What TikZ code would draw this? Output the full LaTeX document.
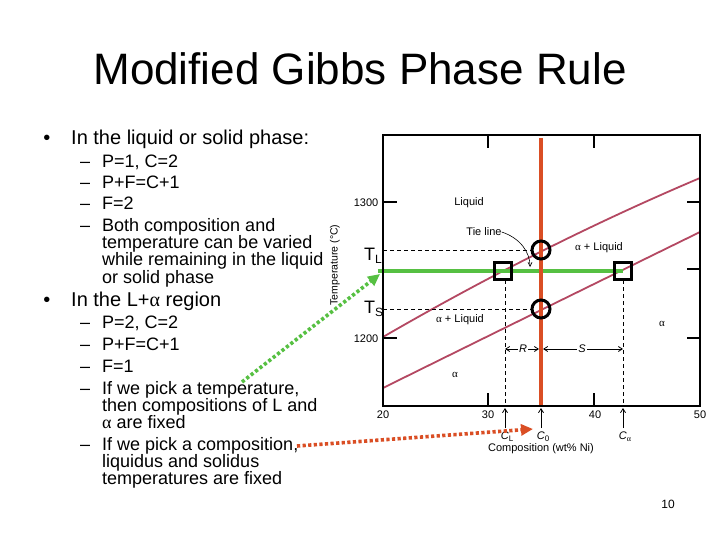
\documentclass[tikz,border=0pt]{standalone}
\usepackage{fontspec}
\setmainfont{Liberation Sans}
\newfontfamily\greekfont{Liberation Serif}
\usetikzlibrary{arrows.meta}
\definecolor{curvecol}{RGB}{180,72,98}
\definecolor{orangecol}{RGB}{218,78,36}
\definecolor{greencol}{RGB}{86,192,66}
\tikzset{
  titlefont/.style={anchor=base, inner sep=0pt, font=\fontsize{44}{48}\selectfont},
  bul/.style={anchor=base, inner sep=0pt, font=\fontsize{20}{22}\selectfont},
  lvlone/.style={anchor=base west, inner sep=0pt, font=\fontsize{20}{22}\selectfont},
  lvltwo/.style={anchor=base west, inner sep=0pt, font=\fontsize{18}{20}\selectfont},
  dashmark/.style={anchor=base west, inner sep=0pt, font=\fontsize{18}{20}\selectfont},
  small/.style={inner sep=0pt, font=\fontsize{11}{12}\selectfont},
  tlab/.style={anchor=base west, inner sep=0pt, font=\fontsize{18}{20}\selectfont},
  curve/.style={draw=curvecol, line width=1.8pt},
  guide/.style={draw=black, line width=0.8pt, dash pattern=on 4pt off 3pt},
  frame/.style={draw=black, line width=1.2pt},
  marker/.style={draw=black, line width=3pt},
  gdot/.style={draw=greencol, line width=3.6pt, dash pattern=on 3.2pt off 2.4pt, -{Triangle[length=12pt,width=11pt]}},
  odot/.style={draw=orangecol, line width=3.6pt, dash pattern=on 3.2pt off 2.4pt, -{Triangle[length=12pt,width=11pt]}},
  uparrow/.style={draw=black, line width=0.8pt, -{Straight Barb[length=4pt,width=5pt]}},
  dimarrow/.style={draw=black, line width=0.8pt, {Straight Barb[length=4pt,width=5pt]}-{Straight Barb[length=4pt,width=5pt]}}
}
\begin{document}
\begin{tikzpicture}[x=1pt,y=-1pt]
\useasboundingbox (0,0) rectangle (720,540);
\fill[white] (0,0) rectangle (720,540);

% title
\node[titlefont] (title) at (360,85) {Modified Gibbs Phase Rule};

% bullets and text
\node[bul] (bu1) at (47,145) {•};
\node[lvlone] (l1) at (71,145) {In the liquid or solid phase:};
\node[dashmark] (d1) at (80,168) {–};
\node[lvltwo] (t1) at (102,168) {P=1, C=2};
\node[dashmark] (d2) at (80,189) {–};
\node[lvltwo] (t2) at (102,189) {P+F=C+1};
\node[dashmark] (d3) at (80,210) {–};
\node[lvltwo] (t3) at (102,210) {F=2};
\node[dashmark] (d4) at (80,231) {–};
\node[lvltwo] (t4a) at (102,231) {Both composition and};
\node[lvltwo] (t4b) at (102,248) {temperature can be varied};
\node[lvltwo] (t4c) at (102,265.5) {while remaining in the liquid};
\node[lvltwo] (t4d) at (102,283) {or solid phase};

\node[bul] (bu2) at (47,306.5) {•};
\node[lvlone] (l2) at (71,306.5) {In the L+{\greekfont α} region};
\node[dashmark] (d5) at (80,328) {–};
\node[lvltwo] (t5) at (102,328) {P=2, C=2};
\node[dashmark] (d6) at (80,350) {–};
\node[lvltwo] (t6) at (102,350) {P+F=C+1};
\node[dashmark] (d7) at (80,372) {–};
\node[lvltwo] (t7) at (102,372) {F=1};
\node[dashmark] (d8) at (80,394) {–};
\node[lvltwo] (t8a) at (102,394) {If we pick a temperature,};
\node[lvltwo] (t8b) at (102,411) {then compositions of L and};
\node[lvltwo] (t8c) at (102,428) {{\greekfont α} are fixed};
\node[dashmark] (d9) at (80,450) {–};
\node[lvltwo] (t9a) at (102,450) {If we pick a composition,};
\node[lvltwo] (t9b) at (102,467) {liquidus and solidus};
\node[lvltwo] (t9c) at (102,484) {temperatures are fixed};

% page number
\node[small, font=\fontsize{12}{13}\selectfont] (pg) at (668,504) {10};

% ---- phase diagram ----
% curves
\draw[curve] (383,337) .. controls (488.7,275.8) and (594.3,222.8) .. (700,178);
\draw[curve] (383,388) .. controls (488,336) and (594,284) .. (700,232);

% guides
\draw[guide] (383,250) -- (531,250);
\draw[guide] (383,309) -- (531,309);
\draw[guide] (505,280) -- (505,406);
\draw[guide] (623,280) -- (623,406);

% green tie line and orange composition line
\coordinate (gl1) at (378,271);
\coordinate (gl2) at (623,271);
\draw[draw=greencol, line width=4.5pt] (gl1) -- (gl2);
\coordinate (ol1) at (541,138);
\coordinate (ol2) at (541,406);
\draw[draw=orangecol, line width=4.5pt] (ol1) -- (ol2);

% frame and ticks
\draw[frame] (383,135) rectangle (700,406);
\draw[frame] (488,135) -- (488,148);
\draw[frame] (594,135) -- (594,148);
\draw[frame] (488,406) -- (488,393);
\draw[frame] (594,406) -- (594,393);
\draw[frame] (383,202) -- (397,202);
\draw[frame] (383,338) -- (397,338);
\draw[frame] (700,202) -- (687,202);
\draw[frame] (700,269) -- (687,269);
\draw[frame] (700,338) -- (687,338);

% markers
\node[marker, circle, minimum size=18pt, inner sep=0pt] (cL) at (541,250) {};
\node[marker, circle, minimum size=18pt, inner sep=0pt] (cS) at (541,309) {};
\node[marker, rectangle, minimum size=17pt, inner sep=0pt] (sqL) at (503,271) {};
\node[marker, rectangle, minimum size=17pt, inner sep=0pt] (sqA) at (623,271) {};

% tick labels
\node[small] (y1300) at (366,203) {1300};
\node[small] (y1200) at (366,339) {1200};
\node[small] (x20) at (383,415) {20};
\node[small] (x30) at (488,415) {30};
\node[small] (x40) at (595,415) {40};
\node[small] (x50) at (700,415) {50};
\node[small, rotate=90, font=\fontsize{10.5}{12}\selectfont] (ylab) at (335,265) {Temperature (°C)};
\node[small] (xlab) at (541,449) {Composition (wt\% Ni)};

% region labels
\node[small] (liq) at (469,203) {Liquid};
\node[small] (tie) at (484,232) {Tie line};
\node[small] (al1) at (599,248) {{\greekfont α} + Liquid};
\node[small] (al2) at (460,320) {{\greekfont α} + Liquid};
\node[small] (a1) at (662,324) {{\greekfont α}};
\node[small] (a2) at (455,375) {{\greekfont α}};
\coordinate (tieend) at (530,267);
\draw[draw=black, line width=0.6pt, -{Straight Barb[length=4pt,width=4pt]}] (tie.east) .. controls (520,238) and (530,252) .. (tieend);

% T labels
\node[tlab] (TL) at (364,260) {T\raisebox{-3pt}{\fontsize{12}{12}\selectfont L}};
\node[tlab] (TS) at (364,313) {T\raisebox{-3pt}{\fontsize{12}{12}\selectfont S}};

% composition labels and arrows
\node[small] (CL) at (507,437) {{\itshape C}\raisebox{-2pt}{\fontsize{8}{8}\selectfont L}};
\node[small] (C0) at (543,437) {{\itshape C}\raisebox{-2pt}{\fontsize{8}{8}\selectfont 0}};
\node[small] (Ca) at (625,437) {{\itshape C}\raisebox{-2pt}{\fontsize{8}{8}\selectfont\greekfont α}};
\coordinate (aL1) at (505,428); \coordinate (aL2) at (505,408);
\coordinate (a01) at (541,428); \coordinate (a02) at (541,408);
\coordinate (aa1) at (623,428); \coordinate (aa2) at (623,408);
\draw[uparrow] (aL1) -- (aL2);
\draw[uparrow] (a01) -- (a02);
\draw[uparrow] (aa1) -- (aa2);

% R and S dimensions
\coordinate (r1) at (505,349); \coordinate (r2) at (539,349);
\coordinate (s1) at (543,349); \coordinate (s2) at (623,349);
\draw[dimarrow] (r1) -- (r2);
\draw[dimarrow] (s1) -- (s2);
\node[small, fill=white, inner sep=1pt, font=\itshape\fontsize{11}{12}\selectfont] (R) at (523,349) {R};
\node[small, fill=white, inner sep=1pt, font=\itshape\fontsize{11}{12}\selectfont] (S) at (582,349) {S};

% dotted pointer arrows
\coordinate (gs) at (242,382);
\coordinate (ge) at (380,274);
\draw[gdot] (gs) -- (ge);
\coordinate (os) at (297,446);
\coordinate (oe) at (533,429);
\draw[odot] (os) -- (oe);
\end{tikzpicture}
\end{document}
